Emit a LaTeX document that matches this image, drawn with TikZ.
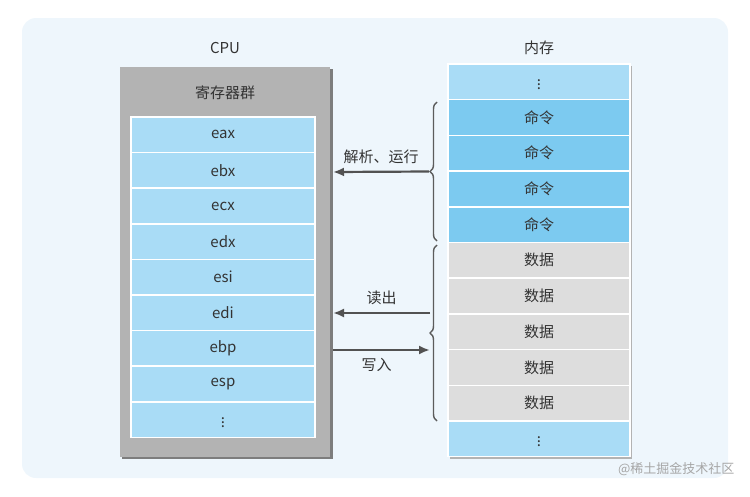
\documentclass[tikz,border=0pt]{standalone}
\usepackage{fontspec}
\setmainfont{Noto Sans CJK SC}
\usetikzlibrary{decorations.pathreplacing,arrows.meta}
\definecolor{bgblue}{HTML}{EEF6FC}
\definecolor{regblue}{HTML}{A9DCF6}
\definecolor{cmdblue}{HTML}{7CCAF0}
\definecolor{datagray}{HTML}{DDDDDD}
\definecolor{boxgray}{HTML}{B3B3B3}
\definecolor{txt}{HTML}{333333}
\tikzset{
  cell/.style={draw=white, line width=1.5pt, inner sep=0pt, text=txt, font=\fontsize{15}{15}\selectfont},
  reg/.style={cell, fill=regblue, minimum width=184pt, minimum height=35.6pt},
  mem/.style={cell, minimum width=182pt, minimum height=35.7pt},
  lbl/.style={text=txt, font=\fontsize{15}{15}\selectfont},
  arr/.style={-{Latex[length=11pt,width=9pt]}, line width=2.2pt, draw=txt!85}
}
\begin{document}
\begin{tikzpicture}[x=1pt,y=-1pt]
\useasboundingbox (0,0) rectangle (750,496);
\fill[bgblue, rounded corners=14pt] (22,18) rectangle (728,478);

% CPU
\fill[boxgray!70!black] (122,69) rectangle (333,459);
\node[fill=boxgray, minimum width=210pt, minimum height=390pt, inner sep=0pt, anchor=north west] (cpu) at (120,67) {};
\node[lbl] (cpulbl) at (225,48) {CPU};
\node[lbl] (group) at (225,93) {寄存器群};
\foreach \name [count=\i from 0] in {eax,ebx,ecx,edx,esi,edi,ebp,esp,$\vdots$}
  \node[reg] (r\i) at (223,{134.8+35.6*\i}) {\name};

% memory
\fill[boxgray] (450,66) rectangle (632,459);
\node[lbl] (memlbl) at (539,48) {内存};
\foreach \name/\col [count=\i from 0] in {$\vdots$/regblue,命令/cmdblue,命令/cmdblue,命令/cmdblue,命令/cmdblue,数据/datagray,数据/datagray,数据/datagray,数据/datagray,数据/datagray,$\vdots$/regblue}
  \node[mem, fill=\col] (m\i) at (539,{81.8+35.7*\i}) {\name};

% braces
\draw[txt!80, line width=1.4pt, decoration={brace, amplitude=7pt}, decorate] (437,241) -- (437,102) coordinate[midway, xshift=-8pt] (b1);
\draw[txt!80, line width=1.4pt, decoration={brace, amplitude=7pt}, decorate] (437,421) -- (437,245) coordinate[midway, xshift=-8pt] (b2);
\coordinate (rd) at (430,313);
\coordinate (wr) at (430,350);
\coordinate (c1) at (333,172);
\coordinate (c2) at (333,313);
\coordinate (c3) at (333,350);

\draw[arr] (b1) -- (c1) node[lbl, midway, above=4pt] {解析、运行};
\draw[arr] (rd) -- (c2) node[lbl, midway, above=4pt] {读出};
\draw[arr] (c3) -- (wr) node[lbl, pos=0.45, below=4pt] {写入};

\node[text=gray!70, font=\fontsize{13}{13}\selectfont, anchor=east] (wm) at (738,469) {@稀土掘金技术社区};
\end{tikzpicture}
\end{document}
